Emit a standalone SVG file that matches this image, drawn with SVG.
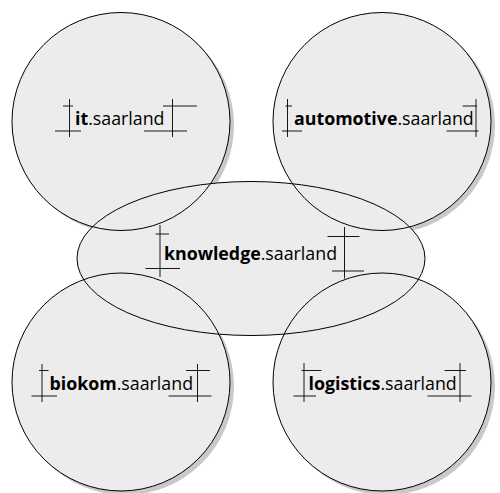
<svg xmlns="http://www.w3.org/2000/svg" width="500" height="493" viewBox="0 0 500 493">
<style>
.bg{fill:#ffffff}
.sh{fill:#c9c9c9}
.fl{fill:#ececec}
.st{fill:none;stroke:#000;stroke-width:1}
.mk{fill:none;stroke:#000;stroke-width:0.9}
.lb{font-family:"Open Sans","Noto Sans","Liberation Sans",sans-serif;font-size:17.8px;fill:#000}
.b{font-weight:bold}
</style>
<rect class="bg" width="500" height="493"/>
<g id="shadows">
<circle class="sh" cx="125" cy="125" r="109"/>
<circle class="sh" cx="386" cy="125" r="109"/>
<circle class="sh" cx="125" cy="386" r="109"/>
<circle class="sh" cx="386" cy="386" r="109"/>
</g>
<g id="fills">
<circle class="fl" cx="121" cy="121.5" r="109"/>
<circle class="fl" cx="382" cy="121.5" r="109"/>
<circle class="fl" cx="121" cy="382" r="109"/>
<circle class="fl" cx="382" cy="382" r="109"/>
<ellipse class="fl" cx="251" cy="258.5" rx="174" ry="77"/>
</g>
<g id="connectors"></g>
<g id="it">
<circle class="st" cx="121" cy="121.5" r="109"/>
<text class="lb" x="75" y="124.5"><tspan class="b">it</tspan>.saarland</text>
<path class="mk" d="M69.5 99V137M63 106H73M55 131H81M172.5 99V137M163 106H197M144 131H187"/>
</g>
<g id="automotive">
<circle class="st" cx="382" cy="121.5" r="109"/>
<text class="lb" x="294" y="124.5"><tspan class="b">automotive</tspan>.saarland</text>
<path class="mk" d="M287.5 99V137M285.5 106H292M282 131H302M476 99V137M462.5 106H477M446.5 131H478.5"/>
</g>
<g id="knowledge">
<ellipse class="st" cx="251" cy="258.5" rx="174" ry="77"/>
<text class="lb" x="164" y="260"><tspan class="b">knowledge</tspan>.saarland</text>
<path class="mk" d="M160 225V277M155.5 234H169M145.5 268.5H180M344.5 227V278.5M327.5 236.5H359.5M332 271H364"/>
</g>
<g id="biokom">
<circle class="st" cx="121" cy="382" r="109"/>
<text class="lb" x="49.5" y="389.5"><tspan class="b">biokom</tspan>.saarland</text>
<path class="mk" d="M42 364V402M39 370.5H48.5M31.5 396H57M197.5 364V402M186 370.5H210M168.5 396H211.5"/>
</g>
<g id="logistics">
<circle class="st" cx="382" cy="382" r="109"/>
<text class="lb" x="308.5" y="389.5"><tspan class="b">logistics</tspan>.saarland</text>
<path class="mk" d="M304 363V402M301.5 370.5H321.5M293.5 396H316M460 363V402M444.5 370.5H466M427.5 396H471.5"/>
</g>
</svg>
